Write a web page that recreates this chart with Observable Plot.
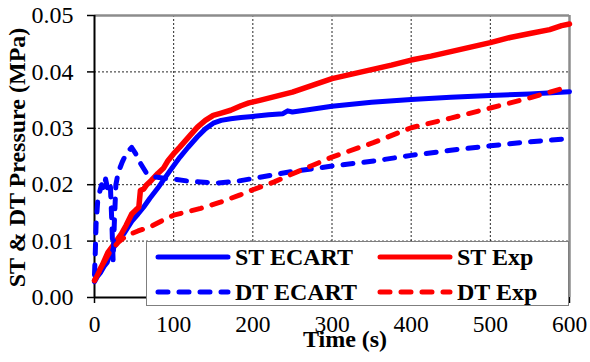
<!DOCTYPE html>
<html>
<head>
<meta charset="utf-8">
<script src="https://cdn.jsdelivr.net/npm/d3@7"></script>
<script src="https://cdn.jsdelivr.net/npm/@observablehq/plot@0.6"></script>
<style>
  html, body { margin: 0; padding: 0; background: #fff; font-family: "Liberation Serif"; }
  svg, svg text, svg tspan { font-family: "Liberation Serif" !important; }
  #wrap { position: relative; width: 590px; height: 362px; }
  #legend { position: absolute; left: 146px; top: 241px; width: 423px; height: 65px; background: #fff; border: 1px solid #7f7f7f; box-sizing: border-box; }
</style>
</head>
<body>
<div id="wrap"></div>
<script>
// ---- data ----
const xTicks = [0, 100, 200, 300, 400, 500, 600];
const yTicks = [0, 0.01, 0.02, 0.03, 0.04, 0.05];
const xLabel = "Time (s)";
const yLabel = "ST & DT Pressure (MPa)";
const seriesNames = ["ST ECART", "ST Exp", "DT ECART", "DT Exp"];

const stEcartT = [0, 4, 8, 12, 16, 20, 24, 30, 38, 47, 55, 62, 70, 80, 87, 95, 108, 118, 130, 140, 150, 160, 172, 185, 200, 220, 238, 244, 250, 270, 300, 350, 400, 450, 500, 550, 600];
const stEcartP = [0.0028, 0.0038, 0.0045, 0.0055, 0.0062, 0.0078, 0.0088, 0.0100, 0.0115, 0.0135, 0.0148, 0.0160, 0.0176, 0.0194, 0.0208, 0.0224, 0.0249, 0.0266, 0.0285, 0.0299, 0.0309, 0.0314, 0.0317, 0.0319, 0.0321, 0.0324, 0.0326, 0.0331, 0.0329, 0.0333, 0.0339, 0.0346, 0.0351, 0.0355, 0.0358, 0.0361, 0.0365];

const stExpT = [0, 5, 10, 17, 25, 34, 40, 47, 52, 56, 58, 62, 66, 72, 80, 87, 93, 100, 108, 118, 130, 140, 150, 160, 172, 185, 195, 210, 230, 250, 275, 300, 325, 350, 375, 400, 425, 450, 475, 500, 525, 550, 575, 590, 600];
const stExpP = [0.0030, 0.0045, 0.0058, 0.0080, 0.0095, 0.0113, 0.0128, 0.0148, 0.0155, 0.0160, 0.0190, 0.0192, 0.0200, 0.0208, 0.0220, 0.0229, 0.0243, 0.0255, 0.0267, 0.0283, 0.0302, 0.0314, 0.0323, 0.0327, 0.0332, 0.0340, 0.0345, 0.0350, 0.0357, 0.0364, 0.0376, 0.0388, 0.0396, 0.0404, 0.0412, 0.0421, 0.0428, 0.0436, 0.0444, 0.0452, 0.0461, 0.0468, 0.0475, 0.0482, 0.0485];

const dtEcartT = [0, 1, 2, 4, 7, 9, 12, 14, 17, 20, 22, 23.5, 25, 27, 30, 35, 40, 47, 52, 58, 65, 75, 90, 100, 120, 155, 180, 200, 248, 300, 353, 400, 450, 500, 550, 600];
const dtEcartP = [0.0040, 0.0080, 0.0130, 0.0170, 0.0190, 0.0200, 0.0192, 0.0210, 0.0190, 0.0200, 0.0130, 0.0065, 0.0130, 0.0200, 0.0222, 0.0240, 0.0255, 0.0266, 0.0255, 0.0238, 0.0222, 0.0214, 0.0211, 0.0210, 0.0206, 0.0203, 0.0206, 0.0211, 0.0223, 0.0233, 0.0242, 0.0252, 0.0261, 0.0269, 0.0276, 0.0282];

const dtExpT = [0, 10, 20, 30, 41, 55, 70, 85, 100, 117, 134, 159, 184, 200, 227, 248, 275, 300, 353, 400, 450, 500, 550, 600];
const dtExpP = [0.0030, 0.0058, 0.0082, 0.0098, 0.0110, 0.0118, 0.0125, 0.0136, 0.0146, 0.0152, 0.0158, 0.0169, 0.0182, 0.0191, 0.0205, 0.0218, 0.0234, 0.0249, 0.0275, 0.0301, 0.0318, 0.0336, 0.0354, 0.0374];

// ---- build tables ----
const toRows = (ts, ps) => ts.map((t, i) => ({t, p: ps[i]}));
const stEcart = toRows(stEcartT, stEcartP);
const stExp = toRows(stExpT, stExpP);
const dtEcart = toRows(dtEcartT, dtEcartP);
const dtExp = toRows(dtExpT, dtExpP);

const FONT = "Liberation Serif";
const BLUE = "#0000ff", RED = "#ff0000";
const DASH = "10,11";
const lineStyle = {x: "t", y: "p", strokeWidth: 5, strokeLinecap: "round", strokeLinejoin: "round"};
const gridStyle = {stroke: "#000", strokeOpacity: 0.85, strokeWidth: 1, strokeDasharray: "2,2"};

const plot = Plot.plot({
  width: 590,
  height: 362,
  marginLeft: 94,
  marginRight: 21,
  marginTop: 15,
  marginBottom: 65,
  x: {domain: [0, 600]},
  y: {domain: [0, 0.05]},
  style: {fontFamily: FONT, fontSize: "24px", color: "#000", background: "#fff", overflow: "visible"},
  marks: [
    Plot.gridX(xTicks, gridStyle),
    Plot.gridY(yTicks, gridStyle),
    Plot.ruleY([0.05], {stroke: "#8c8c8c", strokeWidth: 2.5}),
    Plot.ruleX([600], {stroke: "#8c8c8c", strokeWidth: 2.5}),
    Plot.axisX(xTicks, {tickSize: 6, tickPadding: 12, label: null, fontSize: 23.5, strokeWidth: 1.5}),
    Plot.axisY(yTicks, {tickSize: 7, tickPadding: 14, label: null, fontSize: 24, tickFormat: d3.format(".2f"), strokeWidth: 1.5}),
    Plot.ruleX([0], {stroke: "#000", strokeWidth: 2}),
    Plot.ruleY([0], {stroke: "#000", strokeWidth: 2}),
    Plot.line(stEcart, {...lineStyle, stroke: BLUE}),
    Plot.line(stExp, {...lineStyle, stroke: RED, strokeWidth: 5.5}),
    Plot.line(dtEcart, {...lineStyle, stroke: BLUE, strokeDasharray: DASH}),
    Plot.line(dtExp, {...lineStyle, stroke: RED, strokeDasharray: DASH}),
    Plot.text([yLabel], {frameAnchor: "left", dx: -77, dy: 1, rotate: -90, fontWeight: "bold", fontSize: 24, textAnchor: "middle"}),
    Plot.text([xLabel], {frameAnchor: "bottom", dx: 13, dy: 49, fontWeight: "bold", fontSize: 24, textAnchor: "middle"})
  ]
});
plot.setAttribute("font-family", FONT);

const wrap = document.getElementById("wrap");
wrap.appendChild(plot);

// ---- legend overlay ----
const legend = document.createElement("div");
legend.id = "legend";
const ns = "http://www.w3.org/2000/svg";
const lsvg = document.createElementNS(ns, "svg");
lsvg.setAttribute("width", 421);
lsvg.setAttribute("height", 63);
lsvg.setAttribute("font-family", FONT);
lsvg.style.display = "block";
const colors = [BLUE, RED, BLUE, RED];
const dashes = [null, null, DASH, DASH];
seriesNames.forEach((name, i) => {
  const col = i % 2, row = Math.floor(i / 2);
  const x0 = col === 0 ? 11 : 233;
  const yc = row === 0 ? 15 : 50;
  const ln = document.createElementNS(ns, "line");
  ln.setAttribute("x1", x0);
  ln.setAttribute("x2", x0 + 70);
  ln.setAttribute("y1", yc);
  ln.setAttribute("y2", yc);
  ln.setAttribute("stroke", colors[i]);
  ln.setAttribute("stroke-width", 5);
  ln.setAttribute("stroke-linecap", "round");
  if (dashes[i]) ln.setAttribute("stroke-dasharray", dashes[i]);
  lsvg.appendChild(ln);
  const tx = document.createElementNS(ns, "text");
  tx.setAttribute("x", x0 + 77);
  tx.setAttribute("y", yc + 8);
  tx.setAttribute("font-family", FONT);
  tx.setAttribute("font-size", 24);
  tx.setAttribute("font-weight", "bold");
  tx.textContent = name;
  lsvg.appendChild(tx);
});
legend.appendChild(lsvg);
wrap.appendChild(legend);

document.querySelectorAll("svg text, svg tspan").forEach(t => {
  t.setAttribute("font-family", FONT);
  t.style.fontFamily = FONT;
});
</script>
</body>
</html>
